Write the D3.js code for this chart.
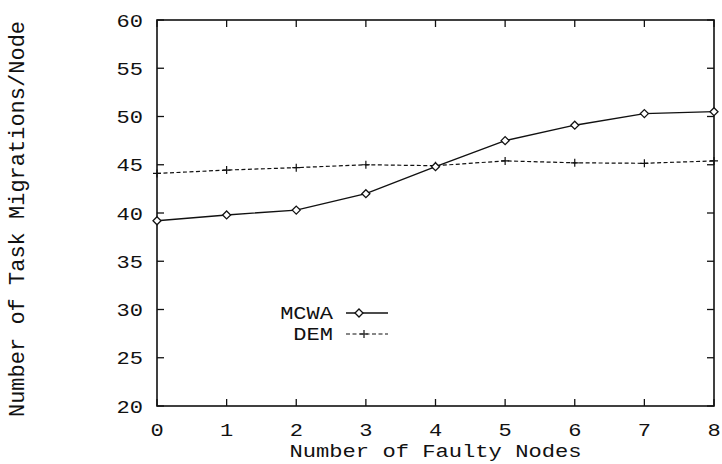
<!DOCTYPE html>
<html>
<head>
<meta charset="utf-8">
<script src="https://cdn.jsdelivr.net/npm/d3@7"></script>
<style>
    html, body { margin: 0; padding: 0; background: #fff; }
    svg { display: block; }
    text { font-family: "Liberation Mono", "DejaVu Sans Mono", monospace; fill: #111; }
</style>
</head>
<body>
<svg id="chart" width="722" height="464"></svg>
<script>
(function () {
    'use strict';

    // data
    const faultyNodes = [0, 1, 2, 3, 4, 5, 6, 7, 8];
    const mcwa = [39.2, 39.8, 40.3, 42.0, 44.8, 47.5, 49.1, 50.3, 50.5];
    const dem = [44.1, 44.45, 44.7, 45.0, 44.9, 45.4, 45.2, 45.15, 45.4];
    const yTicks = [20, 25, 30, 35, 40, 45, 50, 55, 60];
    const xTicks = [0, 1, 2, 3, 4, 5, 6, 7, 8];

    const svg = d3.select('#chart');
    const left = 157, right = 714, top = 20, bottom = 406;
    const stretch = 1.16;
    const fontSize = 19;

    const x = d3.scaleLinear().domain([0, 8]).range([left, right]);
    const y = d3.scaleLinear().domain([20, 60]).range([bottom, top]);

    const ink = '#111';

    // frame
    svg.append('rect')
        .attr('x', left).attr('y', top)
        .attr('width', right - left).attr('height', bottom - top)
        .attr('fill', 'none').attr('stroke', ink).attr('stroke-width', 1.6);

    // inward ticks on all four sides
    const tickLen = 7;
    xTicks.forEach((t) => {
        svg.append('line').attr('x1', x(t)).attr('x2', x(t))
            .attr('y1', bottom).attr('y2', bottom - tickLen)
            .attr('stroke', ink).attr('stroke-width', 1.3);
        svg.append('line').attr('x1', x(t)).attr('x2', x(t))
            .attr('y1', top).attr('y2', top + tickLen)
            .attr('stroke', ink).attr('stroke-width', 1.3);
        svg.append('text')
            .attr('transform', `translate(${x(t)},436) scale(${stretch},1)`)
            .attr('text-anchor', 'middle')
            .attr('font-size', fontSize)
            .text(t);
    });
    yTicks.forEach((t) => {
        svg.append('line').attr('x1', left).attr('x2', left + tickLen)
            .attr('y1', y(t)).attr('y2', y(t))
            .attr('stroke', ink).attr('stroke-width', 1.3);
        svg.append('line').attr('x1', right).attr('x2', right - tickLen)
            .attr('y1', y(t)).attr('y2', y(t))
            .attr('stroke', ink).attr('stroke-width', 1.3);
        svg.append('text')
            .attr('transform', `translate(143,${y(t) + 6.5}) scale(${stretch},1)`)
            .attr('text-anchor', 'end')
            .attr('font-size', fontSize)
            .text(t);
    });

    // axis titles
    svg.append('text')
        .attr('transform', `translate(${(left + right) / 2},457) scale(1.23,1)`)
        .attr('text-anchor', 'middle')
        .attr('font-size', 18)
        .text('Number of Faulty Nodes');
    svg.append('text')
        .attr('transform', `translate(24,219) rotate(-90)`)
        .attr('text-anchor', 'middle')
        .attr('font-size', 22)
        .text('Number of Task Migrations/Node');

    const line = d3.line().x((d, i) => x(faultyNodes[i])).y((d) => y(d));

    const diamond = (g, cx, cy) => {
        const r = 4;
        g.append('path')
            .attr('d', `M${cx},${cy - r}L${cx + r},${cy}L${cx},${cy + r}L${cx - r},${cy}Z`)
            .attr('fill', '#fff').attr('stroke', ink).attr('stroke-width', 1.3);
    };
    const plus = (g, cx, cy) => {
        const r = 4;
        g.append('path')
            .attr('d', `M${cx - r},${cy}H${cx + r}M${cx},${cy - r}V${cy + r}`)
            .attr('stroke', ink).attr('stroke-width', 1.2);
    };

    const series = svg.append('g');
    series.append('path').datum(dem)
        .attr('d', line).attr('fill', 'none')
        .attr('stroke', ink).attr('stroke-width', 1.2)
        .attr('stroke-dasharray', '4,2.5');
    series.append('path').datum(mcwa)
        .attr('d', line).attr('fill', 'none')
        .attr('stroke', ink).attr('stroke-width', 1.4);
    dem.forEach((v, i) => plus(series, x(faultyNodes[i]), y(v)));
    mcwa.forEach((v, i) => diamond(series, x(faultyNodes[i]), y(v)));

    // legend
    const legend = svg.append('g');
    const legendItems = [
        { name: 'MCWA', yPos: 313, dash: null, mark: diamond, sw: 1.4, mx: 359 },
        { name: 'DEM', yPos: 334, dash: '4,2.5', mark: plus, sw: 1.2, mx: 364 },
    ];
    legendItems.forEach((it) => {
        legend.append('text')
            .attr('transform', `translate(333,${it.yPos + 6}) scale(${stretch},1)`)
            .attr('text-anchor', 'end')
            .attr('font-size', fontSize)
            .text(it.name);
        legend.append('line')
            .attr('x1', 346).attr('x2', 388)
            .attr('y1', it.yPos).attr('y2', it.yPos)
            .attr('stroke', ink).attr('stroke-width', it.sw)
            .attr('stroke-dasharray', it.dash);
        it.mark(legend, it.mx, it.yPos);
    });
})();
</script>
</body>
</html>
